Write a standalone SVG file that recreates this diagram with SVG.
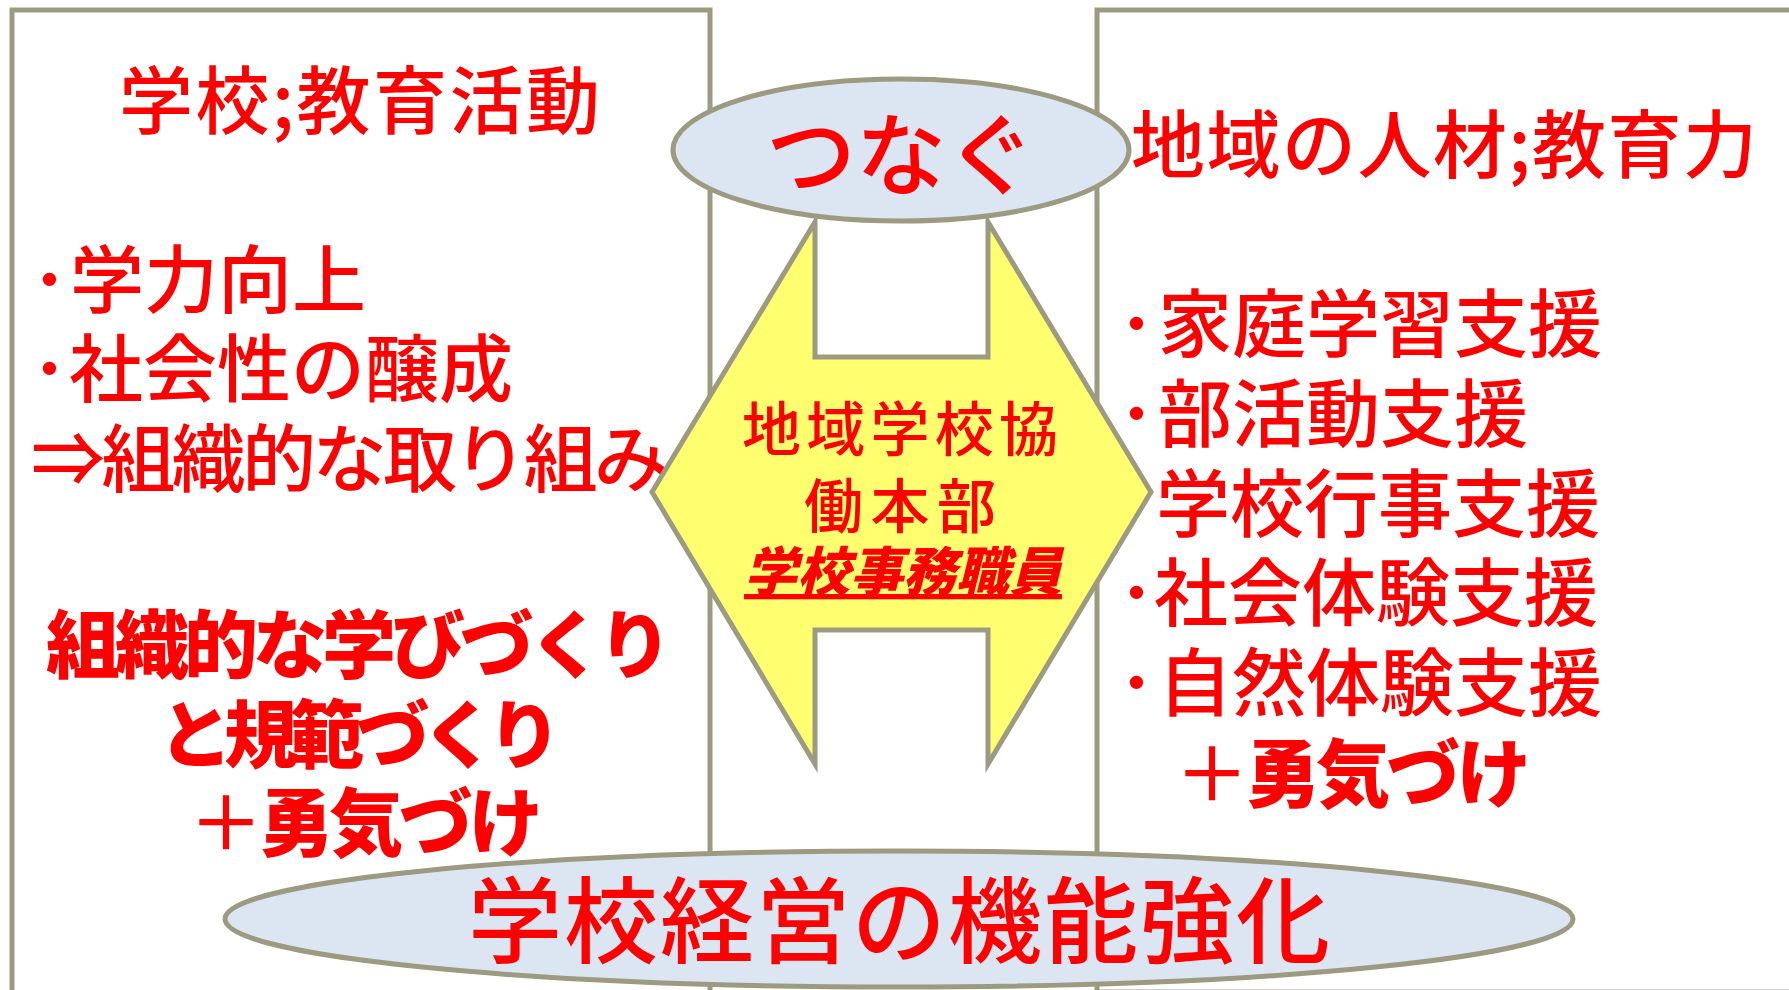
<svg xmlns="http://www.w3.org/2000/svg" width="1789" height="990" viewBox="0 0 1789 990">
<style>
.box{fill:#ffffff;stroke:#9c9a80;stroke-width:5}
.ell{fill:#dce6f2;stroke:#9c9a80;stroke-width:5}
.arrow{fill:#ffff70;stroke:#9c9a80;stroke-width:5;stroke-linejoin:miter}
.t{font-family:"Noto Sans CJK JP","Noto Sans CJK SC",sans-serif;fill:#ff0000;font-weight:500}
.b{font-size:74px}
.h{font-weight:900}
.n{font-weight:500}
</style>
<rect width="1789" height="990" fill="#ffffff"/>
<g id="left-box">
<rect class="box" x="12" y="10" width="698" height="1000"/>
<text class="t b" x="119" y="128" textLength="481" lengthAdjust="spacing">学校;教育活動</text>
<text class="t b" y="307"><tspan x="31">･</tspan><tspan x="70">学力向上</tspan></text>
<text class="t b" y="396"><tspan x="31">･</tspan><tspan x="69">社会性の醸成</tspan></text>
<text class="t b" x="31" y="486" textLength="637" lengthAdjust="spacing">⇒組織的な取り組み</text>
<text class="t b h" x="359" y="672" text-anchor="middle" textLength="626" lengthAdjust="spacing">組織的な学びづくり</text>
<text class="t b h" x="360" y="762" text-anchor="middle" textLength="403" lengthAdjust="spacing">と規範づくり</text>
<text class="t b h" x="366" y="850" text-anchor="middle" textLength="354" lengthAdjust="spacing"><tspan class="n">＋</tspan>勇気づけ</text>
</g>
<g id="right-box">
<rect class="box" x="1097" y="10" width="800" height="982"/>
<text class="t b" x="1131" y="172" textLength="626" lengthAdjust="spacing">地域の人材;教育力</text>
<text class="t b" y="351"><tspan x="1118">･</tspan><tspan x="1158">家庭学習支援</tspan></text>
<text class="t b" y="441"><tspan x="1118">･</tspan><tspan x="1158">部活動支援</tspan></text>
<text class="t b" x="1156" y="531">学校行事支援</text>
<text class="t b" y="620"><tspan x="1118">･</tspan><tspan x="1154">社会体験支援</tspan></text>
<text class="t b" y="710"><tspan x="1118">･</tspan><tspan x="1158">自然体験支援</tspan></text>
<text class="t b h" x="1353" y="801" text-anchor="middle" textLength="356" lengthAdjust="spacing"><tspan class="n">＋</tspan>勇気づけ</text>
</g>
<g id="tsunagu">
<ellipse class="ell" cx="901" cy="150" rx="228" ry="71"/>
<text class="t" x="901" y="188" font-size="90" text-anchor="middle">つなぐ</text>
</g>
<g id="kyodo-honbu">
<polygon class="arrow" points="652,492 815,222 815,357 988,357 988,222 1151,492 988,764 988,630 815,630 815,764"/>
<text class="t" x="900" y="451" font-size="59" text-anchor="middle" textLength="316" lengthAdjust="spacing">地域学校協</text>
<text class="t" x="900" y="528" font-size="59" text-anchor="middle" textLength="192" lengthAdjust="spacing">働本部</text>
<text class="t h" x="903" y="591" font-size="53" font-style="italic" text-decoration="underline" text-anchor="middle" textLength="318" lengthAdjust="spacing">学校事務職員</text>
</g>
<g id="school-management">
<ellipse class="ell" cx="899" cy="919" rx="674" ry="68"/>
<text class="t" x="899" y="956" font-size="94" text-anchor="middle" textLength="862" lengthAdjust="spacing">学校経営の機能強化</text>
</g>
</svg>
